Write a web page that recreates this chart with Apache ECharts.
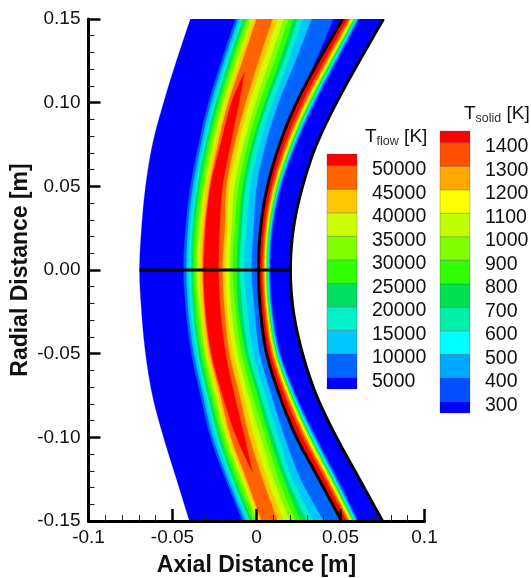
<!DOCTYPE html>
<html>
<head>
<meta charset="utf-8">
<style>html,body{margin:0;padding:0;background:#fff}#chart{width:531px;height:578px}</style>
<script src="https://cdn.jsdelivr.net/npm/echarts@6/dist/echarts.min.js"></script>
</head>
<body>
<div id="chart"></div>
<script>
// radial stations (m), top to bottom, every contour below is read at these
const radial = [0.15, 0.125, 0.1, 0.075, 0.05, 0.025, 0, -0.025, -0.05, -0.075, -0.1, -0.125, -0.15];

// domain boundaries and gas/solid interface, axial distance (m)
const shockEdge = [-.0393, -.0476, -.0553, -.0619, -.0660, -.0684, -.0696, -.0684, -.0660, -.0619, -.0553, -.0476, -.0399];
const interfaceEdge = [.0512, .0369, .0238, .0137, .0065, .0024, .0012, .0024, .0060, .0137, .0238, .0372, .0506];
const backEdge = [.0756, .0613, .0476, .0357, .0274, .0220, .0202, .0220, .0274, .0357, .0476, .0613, .0750];

// Tflow contours, rising side
const flowUp5000 = [-.0125, -.0208, -.0286, -.0345, -.0393, -.0422, -.0434, -.0419, -.0387, -.0333, -.0274, -.0184, -.0083];
const flowUp10000 = [-.0110, -.0193, -.0271, -.0330, -.0378, -.0408, -.0417, -.0405, -.0372, -.0318, -.0259, -.0170, -.0068];
const flowUp15000 = [-.0095, -.0179, -.0256, -.0315, -.0363, -.0393, -.0405, -.0390, -.0357, -.0304, -.0241, -.0155, -.0054];
const flowUp20000 = [-.0080, -.0164, -.0241, -.0303, -.0351, -.0381, -.0387, -.0375, -.0345, -.0289, -.0226, -.0140, -.0039];
const flowUp25000 = [-.0065, -.0149, -.0226, -.0289, -.0336, -.0366, -.0375, -.0363, -.0330, -.0274, -.0211, -.0125, -.0024];
const flowUp30000 = [-.0051, -.0134, -.0211, -.0274, -.0321, -.0351, -.0363, -.0348, -.0315, -.0259, -.0196, -.0107, -.0009];
const flowUp35000 = [-.0033, -.0119, -.0196, -.0259, -.0309, -.0339, -.0351, -.0336, -.0303, -.0244, -.0181, -.0089, .0006];
const flowUp40000 = [-.0018, -.0101, -.0181, -.0244, -.0298, -.0327, -.0339, -.0324, -.0292, -.0229, -.0167, -.0074, .0018];
const flowUp45000 = [0, -.0083, -.0167, -.0229, -.0280, -.0312, -.0321, -.0309, -.0277, -.0214, -.0152, -.0060, .0030];

// Tflow contours, falling side
const flowDown45000 = [.0095, .0012, -.0065, -.0131, -.0179, -.0190, -.0202, -.0190, -.0161, -.0101, -.0042, .0036, .0125];
const flowDown40000 = [.0125, .0042, -.0042, -.0107, -.0161, -.0173, -.0184, -.0173, -.0137, -.0077, -.0012, .0065, .0161];
const flowDown35000 = [.0161, .0077, -.0006, -.0077, -.0131, -.0149, -.0161, -.0149, -.0113, -.0048, .0024, .0101, .0196];
const flowDown30000 = [.0190, .0107, .0018, -.0054, -.0107, -.0131, -.0143, -.0125, -.0089, -.0024, .0054, .0131, .0232];
const flowDown25000 = [.0220, .0137, .0048, -.0030, -.0083, -.0107, -.0119, -.0107, -.0065, .0006, .0077, .0161, .0262];
const flowDown20000 = [.0244, .0161, .0065, -.0012, -.0065, -.0089, -.0101, -.0083, -.0048, .0024, .0101, .0184, .0298];
const flowDown15000 = [.0274, .0190, .0095, .0018, -.0036, -.0060, -.0071, -.0054, -.0018, .0054, .0131, .0214, .0339];
const flowDown10000 = [.0327, .0232, .0131, .0054, 0, -.0018, -.0030, -.0012, .0018, .0089, .0167, .0262, .0399];
const flowDown5000 = [.0458, .0351, .0238, .0137, .0065, .0024, .0012, .0024, .0060, .0137, .0238, .0366, .0500];

// hottest core of the flow has its own stations, closes at both tips
const coreRadial = [0.118, 0.1, 0.075, 0.05, 0.025, 0, -0.025, -0.05, -0.075, -0.1, -0.121];
const coreUp50000 = [-.0071, -.0149, -.0214, -.0274, -.0303, -.0315, -.0303, -.0268, -.0202, -.0119, -.0024];
const coreDown50000 = [-.0071, -.0104, -.0155, -.0202, -.0220, -.0226, -.0214, -.0184, -.0131, -.0071, -.0024];

// Tsolid contours, going outward from the interface
const solid1400 = [.0542, .0403, .0272, .0167, .0090, .0046, .0033, .0046, .0085, .0167, .0274, .0406, .0536];
const solid1300 = [.0554, .0417, .0286, .0179, .0100, .0055, .0042, .0055, .0095, .0179, .0288, .0420, .0548];
const solid1200 = [.0563, .0426, .0295, .0188, .0107, .0061, .0048, .0061, .0102, .0188, .0298, .0429, .0557];
const solid1100 = [.0571, .0434, .0303, .0196, .0113, .0067, .0054, .0067, .0108, .0196, .0307, .0437, .0565];
const solid900 = [.0581, .0446, .0315, .0206, .0122, .0075, .0061, .0075, .0117, .0206, .0319, .0449, .0575];
const solid700 = [.0589, .0455, .0324, .0214, .0128, .0081, .0066, .0081, .0123, .0214, .0328, .0458, .0583];
const solid500 = [.0597, .0464, .0333, .0222, .0135, .0086, .0072, .0086, .0130, .0222, .0338, .0467, .0591];
const solid400 = [.0605, .0473, .0342, .0230, .0142, .0092, .0077, .0092, .0137, .0230, .0347, .0476, .0599];
const solid300 = [.0613, .0482, .0351, .0238, .0148, .0098, .0083, .0098, .0143, .0238, .0357, .0485, .0607];

// legends
const flowLevels = [5000, 10000, 15000, 20000, 25000, 30000, 35000, 40000, 45000, 50000];
const flowBandEdges = [2500, 5000, 10000, 15000, 20000, 25000, 30000, 35000, 40000, 45000, 50000, 52500];
const flowColors = ['#0000ff', '#0064ff', '#00c8ff', '#00f0c8', '#00e060', '#30ff00', '#80ff00', '#ccff00', '#ffc800', '#ff6400', '#ff0000'];
const solidLevels = [300, 400, 500, 600, 700, 800, 900, 1000, 1100, 1200, 1300, 1400];
const solidBandEdges = [250, 300, 400, 500, 600, 700, 800, 900, 1000, 1100, 1200, 1300, 1400, 1450];
const solidColors = ['#0000ff', '#0050ff', '#00a8ff', '#00ffff', '#00f0a8', '#00e050', '#30ff00', '#80ff00', '#bfff00', '#ffff00', '#ffa800', '#ff5000', '#ff0000'];

const xTickLabels = ['-0.1', '-0.05', '0', '0.05', '0.1'];
const yTickLabels = ['-0.15', '-0.10', '-0.05', '0.00', '0.05', '0.10', '0.15'];

const FONT = '"Liberation Sans", Arial, sans-serif';

// painted back to front, each contour sits inside the one before it
const contours = [
    ['#0000ff', radial, shockEdge, backEdge],
    ['#0064ff', radial, flowUp5000, flowDown5000],
    ['#00c8ff', radial, flowUp10000, flowDown10000],
    ['#00f0c8', radial, flowUp15000, flowDown15000],
    ['#00e060', radial, flowUp20000, flowDown20000],
    ['#30ff00', radial, flowUp25000, flowDown25000],
    ['#80ff00', radial, flowUp30000, flowDown30000],
    ['#ccff00', radial, flowUp35000, flowDown35000],
    ['#ffc800', radial, flowUp40000, flowDown40000],
    ['#ff6400', radial, flowUp45000, flowDown45000],
    ['#ff0000', coreRadial, coreUp50000, coreDown50000],
    ['#0050ff', radial, interfaceEdge, solid300],
    ['#00a8ff', radial, interfaceEdge, solid400],
    ['#00ffff', radial, interfaceEdge, solid500],
    ['#00e050', radial, interfaceEdge, solid700],
    ['#80ff00', radial, interfaceEdge, solid900],
    ['#ffff00', radial, interfaceEdge, solid1100],
    ['#ffa800', radial, interfaceEdge, solid1200],
    ['#ff5000', radial, interfaceEdge, solid1300],
    ['#ff0000', radial, interfaceEdge, solid1400]
];
const blackEdges = [interfaceEdge, backEdge];

// rounds off the corners between stations when the curve goes to the canvas
function roundCurve(pts) {
    const out = [];
    for (let i = 0; i < pts.length - 1; i++) {
        const p0 = pts[Math.max(i - 1, 0)], p1 = pts[i], p2 = pts[i + 1], p3 = pts[Math.min(i + 2, pts.length - 1)];
        for (let s = 0; s < 8; s++) {
            const t = s / 8, t2 = t * t, t3 = t2 * t;
            out.push([0, 1].map(k => 0.5 * (2 * p1[k] + (p2[k] - p0[k]) * t
                + (2 * p0[k] - 5 * p1[k] + 4 * p2[k] - p3[k]) * t2
                + (3 * p1[k] - p0[k] - 3 * p2[k] + p3[k]) * t3)));
        }
    }
    out.push(pts[pts.length - 1]);
    return out;
}

function renderContour(params, api) {
    const [color, ys, left, right] = contours[params.dataIndex];
    const leftSide = roundCurve(ys.map((y, i) => api.coord([left[i], y])));
    const rightSide = roundCurve(ys.map((y, i) => api.coord([right[i], y])));
    return {
        type: 'polygon',
        shape: {points: leftSide.concat(rightSide.reverse())},
        style: {fill: color, stroke: color, lineWidth: 0.3}
    };
}

function renderBlackEdge(params, api) {
    const edge = blackEdges[params.dataIndex];
    return {
        type: 'polyline',
        shape: {points: roundCurve(radial.map((y, i) => api.coord([edge[i], y])))},
        style: {fill: 'none', stroke: '#000', lineWidth: 3}
    };
}

function renderLegendBand(params, api) {
    const lo = api.coord([0, api.value(0)]);
    const hi = api.coord([1, api.value(1)]);
    return {
        type: 'rect',
        shape: {x: lo[0], y: hi[1], width: hi[0] - lo[0], height: lo[1] - hi[1]},
        style: {fill: api.value(2), stroke: 'rgba(60,60,70,0.35)', lineWidth: 0.8}
    };
}

function legendData(edges, colors) {
    return colors.map((c, i) => [edges[i], edges[i + 1], c]);
}

function legendAxes(index, levels, min, max) {
    return {
        x: {type: 'value', gridIndex: index, min: 0, max: 1, show: false},
        y: {
            type: 'value', gridIndex: index, min: min, max: max, position: 'right',
            axisLine: {show: false}, axisTick: {show: false}, splitLine: {show: false},
            axisLabel: {
                customValues: levels, margin: 15, color: '#111',
                fontFamily: FONT, fontSize: 19.5, verticalAlign: 'top', lineHeight: 8,
                formatter: v => String(v)
            }
        }
    };
}

function legendTitle(left, top, sub) {
    return {
        left: left, top: top, padding: 0,
        text: '{t|T}{s|' + sub + '}{t| [K]}',
        textStyle: {
            rich: {
                t: {fontFamily: FONT, fontSize: 19, fontWeight: 'normal', color: '#111'},
                s: {fontFamily: FONT, fontSize: 12.5, fontWeight: 'normal', color: '#333', verticalAlign: 'bottom', padding: [9, 0, 0, 0]}
            }
        }
    };
}

const flowAxes = legendAxes(1, flowLevels, 2500, 52500);
const solidAxes = legendAxes(2, solidLevels, 250, 1450);

const chart = echarts.init(document.getElementById('chart'));
chart.setOption({
    animation: false,
    backgroundColor: '#fff',
    title: [legendTitle(365, 126, 'flow'), legendTitle(464, 103, 'solid')],
    grid: [
        {left: 88.5, top: 19, width: 336, height: 502, outerBoundsMode: 'none'},
        {left: 327, top: 154, width: 30, height: 235, outerBoundsMode: 'none'},
        {left: 440, top: 131, width: 30, height: 282, outerBoundsMode: 'none'}
    ],
    xAxis: [
        {
            type: 'value', min: -0.1, max: 0.1, interval: 0.05, z: 5,
            name: 'Axial Distance [m]', nameLocation: 'middle', nameGap: 33,
            nameTextStyle: {fontFamily: FONT, fontWeight: 'bold', fontSize: 23, color: '#111'},
            splitLine: {show: false},
            axisLine: {onZero: false, lineStyle: {color: '#000', width: 3}},
            axisTick: {inside: true, length: 12, lineStyle: {color: '#000', width: 2.5}},
            minorTick: {show: true, splitNumber: 5, length: 6, lineStyle: {color: '#222', width: 1}},
            axisLabel: {
                fontFamily: FONT, fontSize: 19, color: '#111', margin: 7,
                formatter: (v, i) => xTickLabels[i]
            }
        },
        flowAxes.x, solidAxes.x
    ],
    yAxis: [
        {
            type: 'value', min: -0.15, max: 0.15, interval: 0.05, z: 5,
            name: 'Radial Distance [m]', nameLocation: 'middle', nameGap: 56, nameMoveOverlap: false,
            nameTextStyle: {fontFamily: FONT, fontWeight: 'bold', fontSize: 23, color: '#111'},
            splitLine: {show: false},
            axisLine: {onZero: false, lineStyle: {color: '#000', width: 3}},
            axisTick: {inside: true, length: 12, lineStyle: {color: '#000', width: 2.5}},
            minorTick: {show: true, splitNumber: 5, length: 6, lineStyle: {color: '#222', width: 1}},
            axisLabel: {
                fontFamily: FONT, fontSize: 19, color: '#111', margin: 8,
                formatter: (v, i) => yTickLabels[i]
            }
        },
        flowAxes.y, solidAxes.y
    ],
    series: [
        {
            type: 'custom', xAxisIndex: 0, yAxisIndex: 0, clip: true, silent: true,
            renderItem: renderContour,
            data: contours.map((c, i) => [i])
        },
        {
            type: 'custom', xAxisIndex: 0, yAxisIndex: 0, clip: true, silent: true, z: 3,
            renderItem: renderBlackEdge,
            data: blackEdges.map((c, i) => [i])
        },
        {
            // traverse along the stagnation line
            type: 'line', xAxisIndex: 0, yAxisIndex: 0, showSymbol: false, silent: true, z: 3,
            lineStyle: {color: '#000', width: 3},
            data: [[shockEdge[6], 0], [backEdge[6], 0]]
        },
        {
            type: 'custom', xAxisIndex: 1, yAxisIndex: 1, silent: true,
            renderItem: renderLegendBand,
            data: legendData(flowBandEdges, flowColors)
        },
        {
            type: 'custom', xAxisIndex: 2, yAxisIndex: 2, silent: true,
            renderItem: renderLegendBand,
            data: legendData(solidBandEdges, solidColors)
        }
    ]
});
</script>
</body>
</html>
